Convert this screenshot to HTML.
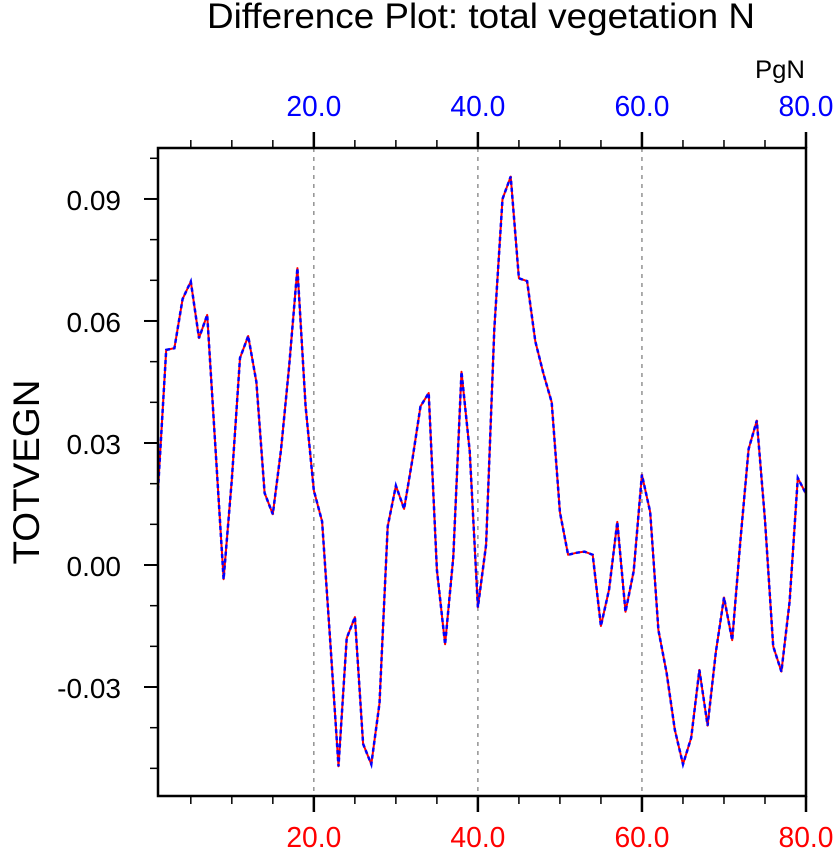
<!DOCTYPE html>
<html><head><meta charset="utf-8"><style>
html,body{margin:0;padding:0;background:#fff;}
svg{display:block;font-family:"Liberation Sans",sans-serif;}
</style></head><body>
<svg id="chart" width="834" height="856" viewBox="0 0 834 856">
<text x="207" y="28" font-size="35" textLength="548" lengthAdjust="spacingAndGlyphs">Difference Plot: total vegetation N</text>
<text x="755" y="78" font-size="25" textLength="50" lengthAdjust="spacingAndGlyphs">PgN</text>
<text transform="translate(39,472) rotate(-90)" font-size="37" text-anchor="middle" textLength="185" lengthAdjust="spacingAndGlyphs">TOTVEGN</text>
<g id="grid"></g>
<g id="ticks"></g>
<g id="series"></g>
<rect x="158" y="148" width="648" height="648" fill="none" stroke="#000" stroke-width="2.5"/>
</svg>
<script>
const xValues = [];
for (let i = 1; i <= 80; i++) xValues.push(i);
const seriesValues = [0.0185,0.0529,0.0533,0.0654,0.0697,0.0558,0.0615,0.029,-0.0035,0.0209,
0.0509,0.0563,0.045,0.0177,0.0125,0.0283,0.049,0.073,0.039,0.0184,
0.0107,-0.019,-0.0495,-0.0180,-0.0128,-0.044,-0.0490,-0.034,0.0095,0.0195,
0.0138,0.0258,0.039,0.0423,-0.0012,-0.0195,0.002,0.0475,0.028,-0.0104,
0.005,0.058,0.090,0.0955,0.0705,0.0698,0.055,0.047,0.040,0.013,
0.0025,0.003,0.0033,0.0025,-0.0150,-0.006,0.0106,-0.0115,-0.0015,0.0222,
0.0130,-0.0160,-0.0265,-0.0405,-0.0490,-0.0425,-0.0258,-0.0395,-0.0215,-0.0080,
-0.0185,0.0060,0.0285,0.0355,0.0110,-0.0200,-0.0262,-0.0090,0.0214,0.0175];
const xMajorTicks = [20,40,60,80];
const xMinorTicks = [5,10,15,25,30,35,45,50,55,65,70,75];
const yMajorTicks = [0.09,0.06,0.03,0.00,-0.03];
const yMajorLabels = ["0.09","0.06","0.03","0.00","-0.03"];
const yMinorTicks = [0.10,0.08,0.07,0.05,0.04,0.02,0.01,-0.01,-0.02,-0.04,-0.05];

const NS="http://www.w3.org/2000/svg";
const X0=158, X1=806, Y0=148, Y1=796;
function sx(v){return X0+(v-1)*(X1-X0)/79;}
function sy(v){return 565-v*4067;}
function mk(tag,attrs,parent){const e=document.createElementNS(NS,tag);for(const k in attrs)e.setAttribute(k,attrs[k]);parent.appendChild(e);return e;}
const grid=document.getElementById('grid'), ticks=document.getElementById('ticks'), series=document.getElementById('series');

xMajorTicks.forEach(v=>{
  const x=sx(v);
  if(v<80){
    const g=mk('line',{x1:x,x2:x,y1:Y0,y2:Y1,stroke:'#777','stroke-width':1.2,'stroke-dasharray':'4,5'},grid);
    
    
  }
  const t1=mk('line',{x1:x,x2:x,y1:Y0,y2:Y0-16,stroke:'#000','stroke-width':2.5},ticks);
  
  
  const t2=mk('line',{x1:x,x2:x,y1:Y1,y2:Y1+16,stroke:'#000','stroke-width':2.5},ticks);
  
  
  const lt=mk('text',{x:x,y:116,'font-size':29,'text-anchor':'middle',fill:'#0000ff',textLength:55,lengthAdjust:'spacingAndGlyphs'},ticks);
  lt.textContent=v.toFixed(1);
  
  
  const lb=mk('text',{x:x,y:847,'font-size':29,'text-anchor':'middle',fill:'#ff0000',textLength:55,lengthAdjust:'spacingAndGlyphs'},ticks);
  lb.textContent=v.toFixed(1);
  
  
});
xMinorTicks.forEach(v=>{
  const x=sx(v);
  const a=mk('line',{x1:x,x2:x,y1:Y0,y2:Y0-8,stroke:'#000','stroke-width':1.5},ticks);
  
  
  const b=mk('line',{x1:x,x2:x,y1:Y1,y2:Y1+8,stroke:'#000','stroke-width':1.5},ticks);
  
  
});
yMajorTicks.forEach((v,i)=>{
  const y=sy(v);
  const t=mk('line',{x1:X0,x2:X0-14,y1:y,y2:y,stroke:'#000','stroke-width':2},ticks);
  
  
  const l=mk('text',{x:121,y:y+11,'font-size':28,'text-anchor':'end'},ticks);
  l.textContent=yMajorLabels[i];
  
  
});
yMinorTicks.forEach(v=>{
  const y=sy(v);
  const t=mk('line',{x1:X0,x2:X0-8,y1:y,y2:y,stroke:'#000','stroke-width':1.5},ticks);
  
  
});
const pts=xValues.map((x,i)=>sx(x).toFixed(1)+','+sy(seriesValues[i]).toFixed(1)).join(' ');
const red=mk('polyline',{points:pts,fill:'none',stroke:'#ff0000','stroke-width':2,'stroke-linejoin':'round'},series);


const blue=mk('polyline',{points:pts,fill:'none',stroke:'#0000ff','stroke-width':2.5,'stroke-dasharray':'4,3'},series);


</script>
</body></html>
